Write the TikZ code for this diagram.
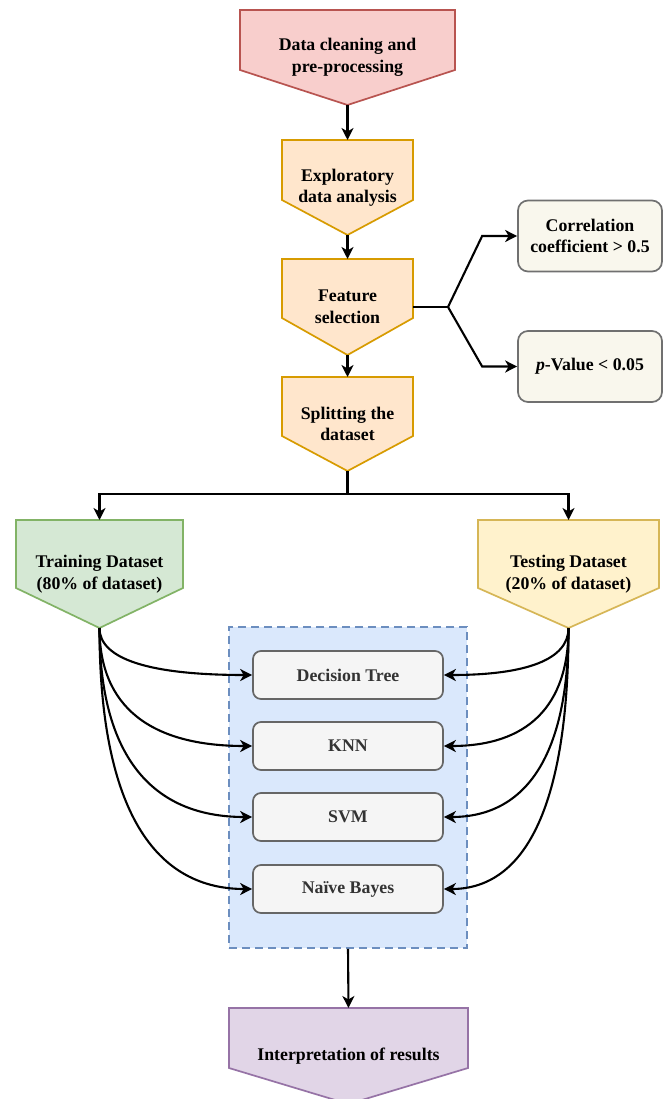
\documentclass[tikz,border=0pt]{standalone}
\usepackage{fontspec}
\setmainfont{Liberation Serif}
\usetikzlibrary{arrows.meta,calc}
\definecolor{redF}{HTML}{F8CECC}\definecolor{redD}{HTML}{B85450}
\definecolor{orangeF}{HTML}{FFE6CC}\definecolor{orangeD}{HTML}{D79B00}
\definecolor{greenF}{HTML}{D5E8D4}\definecolor{greenD}{HTML}{82B366}
\definecolor{yellowF}{HTML}{FFF2CC}\definecolor{yellowD}{HTML}{D6B656}
\definecolor{purpleF}{HTML}{E1D5E7}\definecolor{purpleD}{HTML}{9673A6}
\definecolor{blueF}{HTML}{DAE8FC}\definecolor{blueD}{HTML}{6C8EBF}
\definecolor{grayF}{HTML}{F5F5F5}\definecolor{grayD}{HTML}{666666}\definecolor{grayT}{HTML}{333333}
\definecolor{noteF}{HTML}{F9F7ED}\definecolor{noteD}{HTML}{707070}
\newcommand\pentabox[9]{%
  \draw[shapeline, fill=#7, draw=#8] (#2,#4) -- (#3,#4) -- (#3,#5) -- ({(#2+#3)/2},#6) -- (#2,#5) -- cycle;
  \node[lbl] (#1) at ({(#2+#3)/2},{(#4+#6)/2}) {#9};
  \coordinate (#1-top) at ({(#2+#3)/2},#4);
  \coordinate (#1-tip) at ({(#2+#3)/2},#6);
}
\tikzset{
  lbl/.style={font=\fontsize{17.8}{21.5}\selectfont\bfseries, align=center, inner sep=0pt},
  shapeline/.style={line width=1.7pt, line join=miter},
  arr/.style={line width=2.1pt, draw=black, -{Stealth[length=12pt,width=12pt,inset=3.5pt]}},
  conn/.style={line width=2.1pt, draw=black},
  model/.style={lbl, text=grayT, rectangle, rounded corners=8pt, fill=grayF, draw=grayD,
    line width=1.7pt, minimum width=190pt, minimum height=48pt},
  note/.style={lbl, rectangle, rounded corners=10pt, fill=noteF, draw=noteD,
    line width=1.7pt, minimum width=144pt, minimum height=71pt},
  container/.style={rectangle, fill=blueF, draw=blueD, line width=1.7pt,
    dash pattern=on 8pt off 5pt, minimum width=238pt, minimum height=321pt, inner sep=0pt},
}
\begin{document}
\begin{tikzpicture}[x=1pt,y=-1pt]
\useasboundingbox (0,0) rectangle (665,1099);
\fill[white] (0,0) rectangle (665,1099);

\pentabox{clean}{240}{455}{10}{70}{105}{redF}{redD}{Data cleaning and\\pre-processing}
\pentabox{eda}{282}{413}{140}{200}{235}{orangeF}{orangeD}{Exploratory\\data analysis}
\pentabox{fs}{282}{413}{259}{318}{355}{orangeF}{orangeD}{Feature\\selection}
\pentabox{split}{282}{413}{377}{436}{471}{orangeF}{orangeD}{Splitting the\\dataset}
\pentabox{train}{16}{183}{520}{588}{628}{greenF}{greenD}{Training Dataset\\(80\% of dataset)}
\pentabox{test}{478}{659}{520}{588}{628}{yellowF}{yellowD}{Testing Dataset\\(20\% of dataset)}
\pentabox{interp}{229}{468}{1008}{1068}{1104}{purpleF}{purpleD}{Interpretation of results}

\node[note] (corr) at (590,236) {Correlation\\coefficient > 0.5};
\node[note] (pval) at (590,366.5) {\textit{p}-Value < 0.05};

\node[container] (cont) at (348,787.5) {};
\node[model] (dt) at (348,675) {Decision Tree};
\node[model] (knn) at (348,746) {KNN};
\node[model] (svm) at (348,817) {SVM};
\node[model] (nb) at (348,889) {Naïve Bayes};

\draw[arr] (clean-tip) -- (eda-top);
\draw[arr] (eda-tip) -- (fs-top);
\draw[arr] (fs-tip) -- (split-top);

\coordinate (fs-east) at (413,307);
\coordinate (fork) at (448,307);
\draw[conn] (fs-east) -- (fork);
\draw[arr] (fork) -- ([xshift=-35pt]corr.west) -- (corr.west);
\draw[arr] (fork) -- ([xshift=-35pt]pval.west) -- (pval.west);

\coordinate (splitj) at (347.5,494);
\draw[conn] (split-tip) -- (splitj);
\draw[arr] (splitj) -| (train-top);
\draw[arr] (splitj) -| (test-top);

\foreach \m in {dt,knn,svm,nb}{
  \coordinate (cl-\m) at (train-tip |- \m.west);
  \draw[arr] (train-tip) .. controls ($(train-tip)!0.667!(cl-\m)$) and ($(\m.west)!0.667!(cl-\m)$) .. (\m.west);
  \coordinate (cr-\m) at (test-tip |- \m.east);
  \draw[arr] (test-tip) .. controls ($(test-tip)!0.667!(cr-\m)$) and ($(\m.east)!0.667!(cr-\m)$) .. (\m.east);
}

\draw[arr] (cont.south) -- (interp-top);
\end{tikzpicture}
\end{document}
